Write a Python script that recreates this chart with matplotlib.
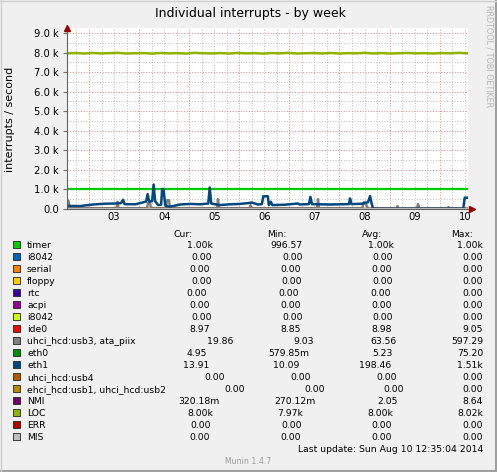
import matplotlib
matplotlib.use("Agg")
import matplotlib.pyplot as plt
import numpy as np
from matplotlib.lines import Line2D
from matplotlib.patches import Rectangle

# ---- data (times are days of August 2014, values in interrupts/s) ----
timer_t = [2.561, 5.0, 7.5, 10.545]
timer_v = [1000, 1000, 1000, 1000]

loc_v = [7960, 7975, 7950, 7980, 7955, 7970, 7985, 7950, 7965, 7975, 7945, 7980,
         7960, 7970, 7950, 7985, 7965, 7955, 7975, 7950, 7980, 7960, 7970, 7945,
         7975, 7960, 7985, 7950, 7965, 7975, 7955, 7980, 7950, 7970, 7960, 7985,
         7955, 7975, 7950, 7965, 7980, 7960, 7970, 7950, 7975, 7960, 7985, 7965]

eth1_t = [2.561, 2.82, 3.08, 3.32, 3.52, 3.64, 3.68, 3.71, 3.92, 4.02, 4.14, 4.17,
          4.20, 4.26, 4.29, 4.32, 4.38, 4.44, 4.46, 4.49, 4.52, 4.56, 4.62, 4.82,
          5.02, 5.22, 5.38, 5.41, 5.44, 5.61, 5.81, 6.01, 6.17, 6.25, 6.37, 6.45,
          6.48, 6.57, 6.59, 6.63, 6.66, 6.91, 7.17, 7.21, 7.39, 7.42, 7.45, 7.81,
          8.19, 8.21, 8.24, 8.45, 8.57, 8.61, 8.64, 8.67, 9.21, 9.81, 10.47, 10.50,
          10.545]
eth1_v = [160, 150, 230, 270, 280, 300, 470, 250, 240, 300, 380, 760,
          380, 400, 1250, 400, 200, 220, 1020, 1000, 200, 130, 120, 230,
          260, 240, 280, 1100, 280, 200, 240, 260, 300, 330, 230, 250,
          650, 650, 200, 370, 200, 220, 280, 230, 250, 620, 250, 230,
          250, 540, 250, 270, 350, 660, 300, 20, 15, 20, 20, 580,
          580]

ata_t = [2.561, 2.591, 2.61, 3.549, 3.569, 3.589, 4.158, 4.178, 4.218, 4.238,
         4.537, 4.557, 4.597, 4.617, 5.555, 5.575, 5.595, 6.204, 6.224, 6.244,
         7.551, 7.571, 7.591, 8.449, 8.489, 8.529, 8.569, 9.138, 9.158, 9.178,
         9.547, 9.567, 9.597, 10.156, 10.176, 10.196, 10.545]
ata_v = [420, 420, 40, 40, 370, 40, 40, 300, 300, 40,
         40, 450, 450, 40, 40, 500, 40, 40, 200, 40,
         40, 500, 40, 40, 350, 250, 20, 20, 150, 20,
         20, 250, 20, 20, 100, 20, 20]

labels = ["timer", "i8042", "serial", "floppy", "rtc", "acpi", "i8042", "ide0",
          "uhci_hcd:usb3, ata_piix", "eth0", "eth1", "uhci_hcd:usb4",
          "ehci_hcd:usb1, uhci_hcd:usb2", "NMI", "LOC", "ERR", "MIS"]
colors = ["#00CC00", "#0066B3", "#FF8000", "#FFCC00", "#330099", "#990099",
          "#CCFF00", "#FF0000", "#808080", "#008F00", "#00487D", "#B35A00",
          "#B38F00", "#6B006B", "#8FB300", "#B30000", "#BEBEBE"]
cur = [1000, 0, 0, 0, 0, 0, 0, 8.97, 19.86, 4.95, 13.91, 0, 0, 0.32018, 8000, 0, 0]
vmin = [996.57, 0, 0, 0, 0, 0, 0, 8.85, 9.03, 0.57985, 10.09, 0, 0, 0.27012, 7970, 0, 0]
vavg = [1000, 0, 0, 0, 0, 0, 0, 8.98, 63.56, 5.23, 198.46, 0, 0, 2.05, 8000, 0, 0]
vmax = [1000, 0, 0, 0, 0, 0, 0, 9.05, 597.29, 75.20, 1510, 0, 0, 8.64, 8020, 0, 0]

day_labels = ["03", "04", "05", "06", "07", "08", "09", "10"]

W, H = 497, 472
def fx(x): return x / W
def fy(y): return 1 - y / H

fig = plt.figure(figsize=(W / 100, H / 100), dpi=100)
fig.patch.set_facecolor("#f0f0f0")

x0, x1 = 2.561, 2.561 + 401 / 50.1
ax = fig.add_axes([fx(67), fy(209), (468 - 67) / W, (209 - 28) / H])
ax.set_facecolor("white")
ax.set_xlim(x0, x1)
ax.set_ylim(0, 181 / 19.556 * 1000)
for s in ax.spines.values():
    s.set_visible(False)

# grid: minor every 6h / 500, major at midnight / 1000
for d in np.arange(2.75, x1, 0.25):
    major = abs(d - round(d)) < 1e-6
    ax.axvline(d, color="#ee9090" if major else "#c4c4c4", lw=0.75,
               ls=(0, (1, 1.6)), zorder=0)
for v in range(500, 9500, 500):
    major = v % 1000 == 0
    ax.axhline(v, color="#ee9090" if major else "#c4c4c4", lw=0.75,
               ls=(0, (1, 1.6)), zorder=0)

# series
zero_t = [x0, x1]
for i, lab in enumerate(labels):
    c = colors[i]
    if lab == "timer":
        ax.plot(timer_t, timer_v, color=c, lw=1.6)
    elif lab == "LOC":
        ax.plot(np.linspace(x0, 10.545, len(loc_v)), loc_v, color=c, lw=1.8)
    elif lab == "eth1":
        ax.plot(eth1_t, eth1_v, color=c, lw=1.8)
    elif lab.startswith("uhci_hcd:usb3"):
        ax.plot(ata_t, ata_v, color=c, lw=1.8)
    else:
        ax.plot(zero_t, [vavg[i], vavg[i]], color=c, lw=1.5)

# axes with arrows
ax.add_line(Line2D([0, 0], [0, 1], transform=ax.transAxes, color="#606060",
                   lw=0.8, clip_on=False, zorder=5))
ax.add_line(Line2D([0, 1.01], [0, 0], transform=ax.transAxes, color="#606060",
                   lw=0.8, clip_on=False, zorder=5))
ax.plot([0], [1.0], marker="^", ms=4, color="#990000", transform=ax.transAxes,
        clip_on=False, zorder=6)
ax.plot([1.01], [0], marker=">", ms=4, color="#990000", transform=ax.transAxes,
        clip_on=False, zorder=6)

yt = list(range(0, 10000, 1000))
ax.set_yticks(yt, ["0.0"] + ["%.1f k" % (v / 1000) for v in yt[1:]])
ax.set_xticks([int(d) + 0.5 for d in day_labels], day_labels)
ax.tick_params(axis="y", length=3, width=0.8, color="#707070", pad=3,
               labelsize=7.2, labelcolor="#000000")
ax.tick_params(axis="x", length=0, pad=2.5, labelsize=7.2)

fig.text(fx(250), fy(14), "Individual interrupts - by week", fontsize=9,
         ha="center", va="center")
fig.text(fx(10), fy(119), "interrupts / second", fontsize=8, rotation=90,
         ha="center", va="center")
fig.text(fx(489), fy(56), "RRDTOOL / TOBI OETIKER", fontsize=5.8, rotation=270,
         ha="center", va="center", color="#b4b4b4")

# ---- legend, justified like rrdtool ----
fs = 6.7
r = fig.canvas.get_renderer()
def tw(s):
    t = fig.text(0, 0, s, fontsize=fs)
    w = t.get_window_extent(r).width
    t.remove()
    return w
sp = tw("a a") - tw("aa")

def si(v):
    if v == 0:
        return "%6.2f" % 0, " "
    if abs(v) >= 1000:
        return "%6.2f" % (v / 1000), "k"
    if abs(v) < 1:
        return "%6.2f" % (v * 1000), "m"
    return "%6.2f" % v, " "

for x, h in zip([174, 267, 362, 451], ["Cur:", "Min:", "Avg:", "Max:"]):
    fig.text(fx(x), fy(236.5), h, fontsize=fs, va="baseline")

maxlen = max(len(l) for l in labels)
left, right = 27, 483
for i, lab in enumerate(labels):
    yb = 248.5 + 12 * i
    fig.patches.append(Rectangle((fx(13), fy(248 + 12 * i)), 7 / W, 7 / H,
                                 transform=fig.transFigure, facecolor=colors[i],
                                 edgecolor="#222222", lw=0.6))
    fig.text(fx(left), fy(yb), lab, fontsize=fs, va="baseline")
    label_w = tw(lab) + sp * (maxlen + 1 - len(lab))
    items = []
    vals = [cur[i], vmin[i], vavg[i], vmax[i]]
    for k, v in enumerate(vals):
        num, unit = si(v)
        lead = len(num) - len(num.lstrip())
        core = num.strip() + unit.strip()
        w = lead * sp + tw(core)
        if unit == " " and k < 3:
            w += sp
        items.append((lead, core, w))
    glue = (right - left - label_w - sum(it[2] for it in items)) / 4
    x = left + label_w + glue
    for lead, core, w in items:
        fig.text(fx(x + lead * sp), fy(yb), core, fontsize=fs, va="baseline")
        x += w + glue

fig.text(fx(483), fy(452.5), "Last update: Sun Aug 10 12:35:04 2014",
         fontsize=fs, ha="right", va="baseline")
fig.text(fx(248), fy(464), "Munin 1.4.7", fontsize=5.6, ha="center",
         va="baseline", color="#999999")

# frame
fig.add_artist(Line2D([0, 1], [fy(471), fy(471)], color="#a0a0a0", lw=1.5))
fig.add_artist(Line2D([fx(496), fx(496)], [0, 1], color="#a0a0a0", lw=1.5))
fig.add_artist(Line2D([0, 1], [fy(0.5), fy(0.5)], color="#d0d0d0", lw=1))
fig.add_artist(Line2D([fx(0.5), fx(0.5)], [0, 1], color="#d0d0d0", lw=1))

fig.savefig("out.png", dpi=100, facecolor=fig.get_facecolor())
